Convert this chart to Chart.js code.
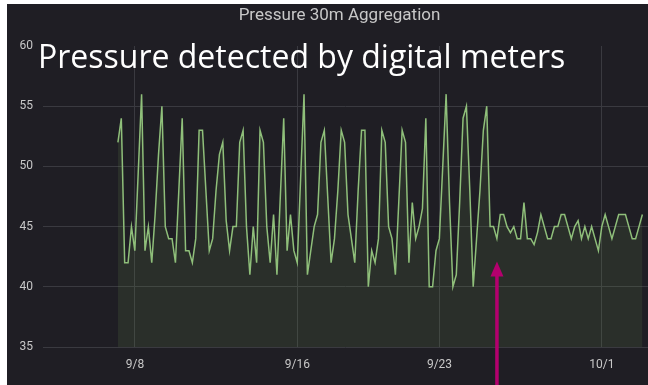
<!DOCTYPE html>
<html>
<head>
<meta charset="utf-8">
<script src="https://cdn.jsdelivr.net/npm/chart.js@4"></script>
<style>
  html, body { margin: 0; padding: 0; background: #fff; }
  #panel { position: absolute; left: 7px; top: 4px; width: 641px; height: 381px; background: #1f1e24; }
</style>
</head>
<body>
<div id="panel"><canvas id="pressureChart" width="641" height="381"></canvas></div>
<script>
// days counted from 9/8 00:00, one reading every 4 hours
const startDay = -0.84;
const stepDays = 1 / 6;
const pressure = [
  52, 54, 42, 42, 45, 43, 49.5, 56, 43, 45, 42, 46, 51, 55, 45, 44, 44, 42, 48, 54,
  43, 43, 42, 44, 53, 53, 48, 43, 44, 48, 51, 52, 45.5, 43, 45, 45, 52, 53, 45, 41,
  45, 42, 53, 52, 45, 42, 46, 41, 47.5, 54, 43, 46, 43, 42, 49, 56, 41, 43, 45, 46,
  52, 53, 47.5, 42, 44, 48, 53, 52, 46, 44, 42, 48, 53, 53, 40, 43, 42, 44, 53, 52,
  45, 44, 41, 47, 53, 52, 42, 47, 44, 45, 46.5, 54, 40, 40, 43, 44, 50, 56, 47, 40,
  41, 47, 54, 55, 48, 40, 44, 48, 53, 55, 45, 45, 44, 46, 46, 45, 44.5, 45, 44, 44,
  47, 44, 44, 43.5, 44.5, 46, 45, 44, 44, 45, 45, 46, 46, 45, 44, 45, 45.5, 44, 45, 44,
  45, 44, 43, 45, 46, 45, 44, 45, 46, 46, 46, 45, 44, 44, 45, 46
];
const tickDays = [0, 8, 15, 23];
const tickLabels = ["9/8", "9/16", "9/23", "10/1"];
const arrowDay = 17.83;
const arrowValue = 42.1;

const points = pressure.map((v, i) => ({ x: startDay + i * stepDays, y: v }));

const overlay = {
  id: "overlay",
  afterDraw(chart) {
    const ctx = chart.ctx;
    const area = chart.chartArea;
    const x = chart.scales.x.getPixelForValue(arrowDay);
    const tip = chart.scales.y.getPixelForValue(arrowValue);
    ctx.save();
    // panel title
    ctx.fillStyle = "#c8c8c8";
    ctx.font = '17px Roboto';
    ctx.textAlign = "center";
    ctx.textBaseline = "middle";
    ctx.fillText("Pressure 30m Aggregation", (area.left + area.right) / 2 - 6, 12);

    // arrow
    ctx.strokeStyle = "#b4006e";
    ctx.fillStyle = "#b4006e";
    ctx.lineWidth = 3.5;
    ctx.beginPath();
    ctx.moveTo(x, chart.height);
    ctx.lineTo(x, tip + 12);
    ctx.stroke();
    ctx.beginPath();
    ctx.moveTo(x, tip);
    ctx.lineTo(x - 6.5, tip + 15);
    ctx.lineTo(x + 6.5, tip + 15);
    ctx.closePath();
    ctx.fill();

    // caption
    ctx.fillStyle = "#ffffff";
    ctx.font = '32px "Open Sans"';
    ctx.textAlign = "left";
    ctx.textBaseline = "alphabetic";
    ctx.fillText("Pressure detected by digital meters", 31, 64);
    ctx.restore();
  }
};

new Chart(document.getElementById("pressureChart"), {
  type: "line",
  data: {
    datasets: [{
      data: points,
      borderColor: "#8fbf7a",
      borderWidth: 1.5,
      backgroundColor: "rgba(115, 160, 85, 0.13)",
      fill: "start",
      pointRadius: 0,
      tension: 0
    }]
  },
  options: {
    responsive: false,
    devicePixelRatio: 1,
    animation: false,
    layout: { padding: { left: 0, right: 0, top: 42, bottom: 0 } },
    plugins: {
      legend: { display: false },
      tooltip: { enabled: false },
      title: { display: false }
    },
    scales: {
      x: {
        type: "linear",
        min: -4.53,
        max: 25.27,
        afterBuildTicks: (scale) => { scale.ticks = tickDays.map(v => ({ value: v })); },
        afterFit: (scale) => { scale.height = 38; },
        ticks: {
          color: "#c8c8c8",
          font: { family: "Roboto", size: 12 },
          padding: 11,
          maxRotation: 0,
          callback: (v) => tickLabels[tickDays.indexOf(v)]
        },
        grid: { color: "#3a3a40", drawTicks: false },
        border: { display: false }
      },
      y: {
        min: 35,
        max: 60,
        afterFit: (scale) => { scale.width = 36; },
        ticks: {
          stepSize: 5,
          color: "#c8c8c8",
          font: { family: "Roboto", size: 12 },
          padding: 10
        },
        grid: {
          color: (c) => c.tick && c.tick.value === 60 ? "rgba(0,0,0,0)" : "#3a3a40",
          drawTicks: false
        },
        border: { display: false }
      }
    }
  },
  plugins: [overlay]
});
</script>
</body>
</html>
